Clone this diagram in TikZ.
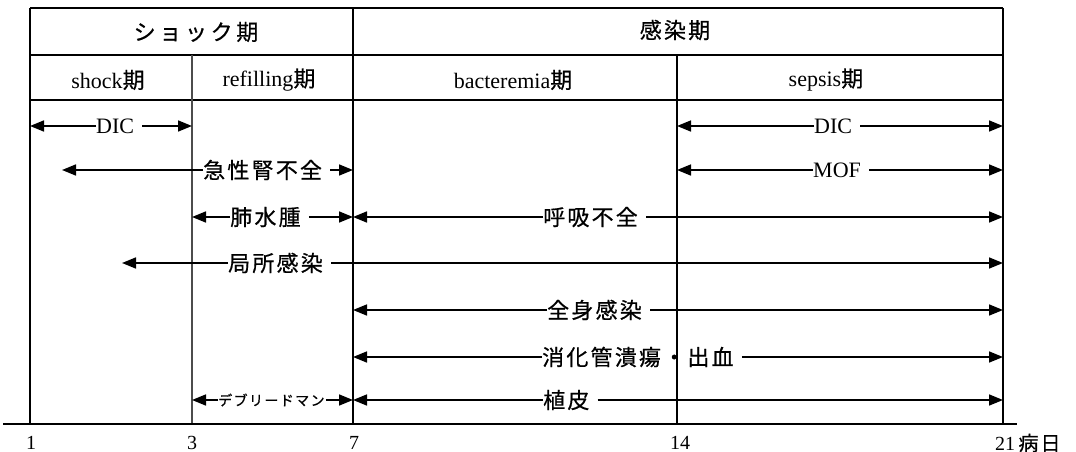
\documentclass[tikz,border=0pt]{standalone}
\usepackage{fontspec}
\setmainfont{Liberation Serif}
\newfontfamily\jp[LetterSpace=10,FakeBold=0.6]{Noto Sans CJK JP}
\usetikzlibrary{arrows.meta}
\tikzset{
  grid/.style={line width=1.6pt},
  softgrid/.style={line width=1.4pt, black!70},
  tip/.style={line width=1.6pt, -{Triangle[length=14pt,width=11pt]}},
  lbl/.style={anchor=west, inner sep=0pt, font=\fontsize{22}{22}\selectfont},
  head/.style={inner sep=0pt, font=\fontsize{22}{22}\selectfont},
  tick/.style={inner sep=0pt, font=\fontsize{20}{20}\selectfont}
}
\newcommand{\J}[1]{{\jp #1}}
\begin{document}
\begin{tikzpicture}[x=1pt,y=-1pt]
\useasboundingbox (0,0) rectangle (1076,452);

% table frame and period separators
\draw[grid] (30,8) -- (1003,8);
\draw[grid] (30,55) -- (1003,55);
\draw[grid] (30,100) -- (1003,100);
\draw[grid] (30,8) -- (30,424);
\draw[grid] (353,8) -- (353,424);
\draw[grid] (677,55) -- (677,424);
\draw[grid] (1003,8) -- (1003,424);
\draw[softgrid] (192,55) -- (192,424);
\draw[grid] (3,424) -- (1017,424);

% headers
\node[head] (hShock) at (196,32) {\J{シ\,ョ\,ッ\,ク\,期}};
\node[head] (hInf) at (675,30) {\J{感染期}};
\node[head] (hS1) at (108,80) {shock\J{期}};
\node[head] (hS2) at (269,80) {refilling\J{期}};
\node[head] (hS3) at (513,80) {bacteremia\J{期}};
\node[head] (hS4) at (826,80) {sepsis\J{期}};

% day ticks
\node[tick] (d1) at (31,443) {1};
\node[tick] (d3) at (192,443) {3};
\node[tick] (d7) at (354,443) {7};
\node[tick] (d14) at (680,443) {14};
\node[tick, anchor=west] (d21) at (995,443) {21\,\J{病日}};

% end points of the spans
\coordinate (a1L) at (30,126);   \coordinate (a1R) at (192,126);
\coordinate (a2L) at (62,170);   \coordinate (a2R) at (353,170);
\coordinate (a3L) at (192,217);  \coordinate (a3R) at (353,217);
\coordinate (a4L) at (353,217);  \coordinate (a4R) at (1003,217);
\coordinate (a5L) at (122,263);  \coordinate (a5R) at (1003,263);
\coordinate (a6L) at (353,310);  \coordinate (a6R) at (1003,310);
\coordinate (a7L) at (353,357);  \coordinate (a7R) at (1003,357);
\coordinate (a8L) at (192,400);  \coordinate (a8R) at (353,400);
\coordinate (a9L) at (353,400);  \coordinate (a9R) at (1003,400);
\coordinate (b1L) at (677,126);  \coordinate (b1R) at (1003,126);
\coordinate (b2L) at (677,170);  \coordinate (b2R) at (1003,170);

% span labels
\node[lbl] (t1) at (96,126) {DIC};
\node[lbl] (t2) at (203,170) {\J{急性腎不全}};
\node[lbl] (t3) at (230,217) {\J{肺水腫}};
\node[lbl] (t4) at (543,217) {\J{呼吸不全}};
\node[lbl] (t5) at (228,263) {\J{局所感染}};
\node[lbl] (t6) at (547,310) {\J{全身感染}};
\node[lbl] (t7) at (542,357) {\J{消化管潰瘍・出血}};
\node[lbl, font=\fontsize{14}{14}\selectfont] (t8) at (218,400) {\J{デブリードマン}};
\node[lbl] (t9) at (543,400) {\J{植皮}};
\node[lbl] (u1) at (814,126) {DIC};
\node[lbl] (u2) at (813,170) {MOF};

% spans
\foreach \n/\p in {t1/a1,t2/a2,t3/a3,t4/a4,t5/a5,t6/a6,t7/a7,t9/a9,u1/b1,u2/b2}{
  \draw[tip] (\n.west) -- (\p L);
  \draw[tip] ([xshift=8pt]\n.east) -- (\p R);
}
\draw[tip] (t8.west) -- (a8L);
\draw[tip] ([xshift=1pt]t8.east) -- (a8R);
\end{tikzpicture}
\end{document}
